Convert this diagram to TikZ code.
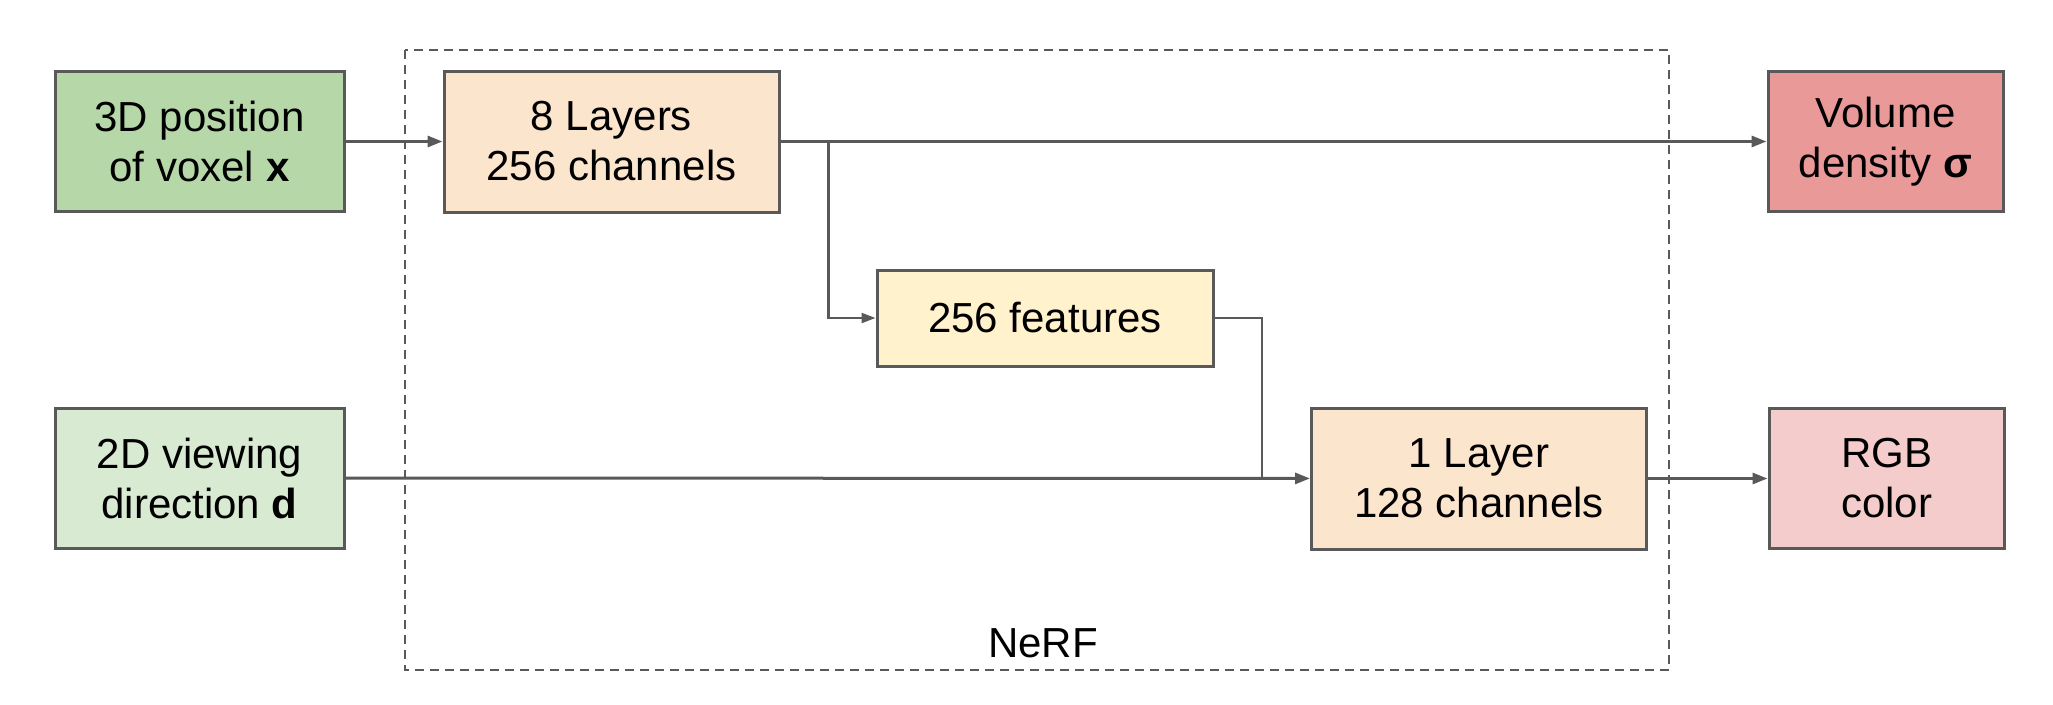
\documentclass[tikz,border=0pt]{standalone}
\usepackage{fontspec}
\setmainfont{Liberation Sans}
\usetikzlibrary{arrows.meta}
\definecolor{linegray}{HTML}{595959}
\definecolor{posgreen}{HTML}{B6D7A8}
\definecolor{dirgreen}{HTML}{D9EAD3}
\definecolor{layerorange}{HTML}{FCE5CD}
\definecolor{featyellow}{HTML}{FFF2CC}
\definecolor{densityred}{HTML}{EA9999}
\definecolor{colorpink}{HTML}{F4CCCC}

\begin{document}
\begin{tikzpicture}[x=1pt,y=-1pt,
    block/.style={draw=linegray,line width=3pt,align=center,inner sep=0pt,
      font=\fontsize{42}{50}\selectfont,text=black},
    input_block/.style={block,minimum width=289pt,minimum height=140pt},
    layer_block/.style={block,fill=layerorange,minimum width=335pt,minimum height=141pt},
    output_block/.style={block,minimum width=235pt,minimum height=140pt},
    main_edge/.style={linegray,line width=3pt,-{Triangle[length=15pt,width=11pt]}},
    side_edge/.style={linegray,line width=2.2pt},
    nerf_box/.style={draw=linegray,line width=2.5pt,dash pattern=on 9pt off 6pt}]
  \useasboundingbox (0,0) rectangle (2053,704);
  \draw[nerf_box] (405,50) rectangle (1669,670);
\node[font=\fontsize{42}{50}\selectfont] (nerf) at (1043,643) {NeRF};
\node[input_block,fill=posgreen] (pos) at (199.5,141.5) {3D position\\of voxel \textbf{x}};
\node[input_block,fill=dirgreen] (dir) at (199.5,478) {2D viewing\\direction \textbf{d}};
\node[layer_block] (eight) at (611.5,141.5) {8 Layers\\256 channels};
\node[block,fill=featyellow,minimum width=336pt,minimum height=96pt] (feat) at (1045,318) {256 features};
\node[layer_block] (one) at (1479,478.5) {1 Layer\\128 channels};
\node[output_block,fill=densityred] (density) at (1885.5,141.5) {Volume\\density \textbf{σ}};
\node[output_block,fill=colorpink] (rgb) at (1886.5,478.5) {RGB\\color};
\coordinate (split) at (828.5,141.5);
\coordinate (join) at (1262,478);
\draw[main_edge] (pos) -- (eight);
\draw[main_edge] (eight) -- (density);
\draw[side_edge,-{Triangle[length=14pt,width=10pt]}] (split) |- (feat);
\draw[side_edge] (feat.east) -| (join);
\draw[main_edge] (dir) -- (one);
\draw[main_edge] (one) -- (rgb);
\end{tikzpicture}
\end{document}
